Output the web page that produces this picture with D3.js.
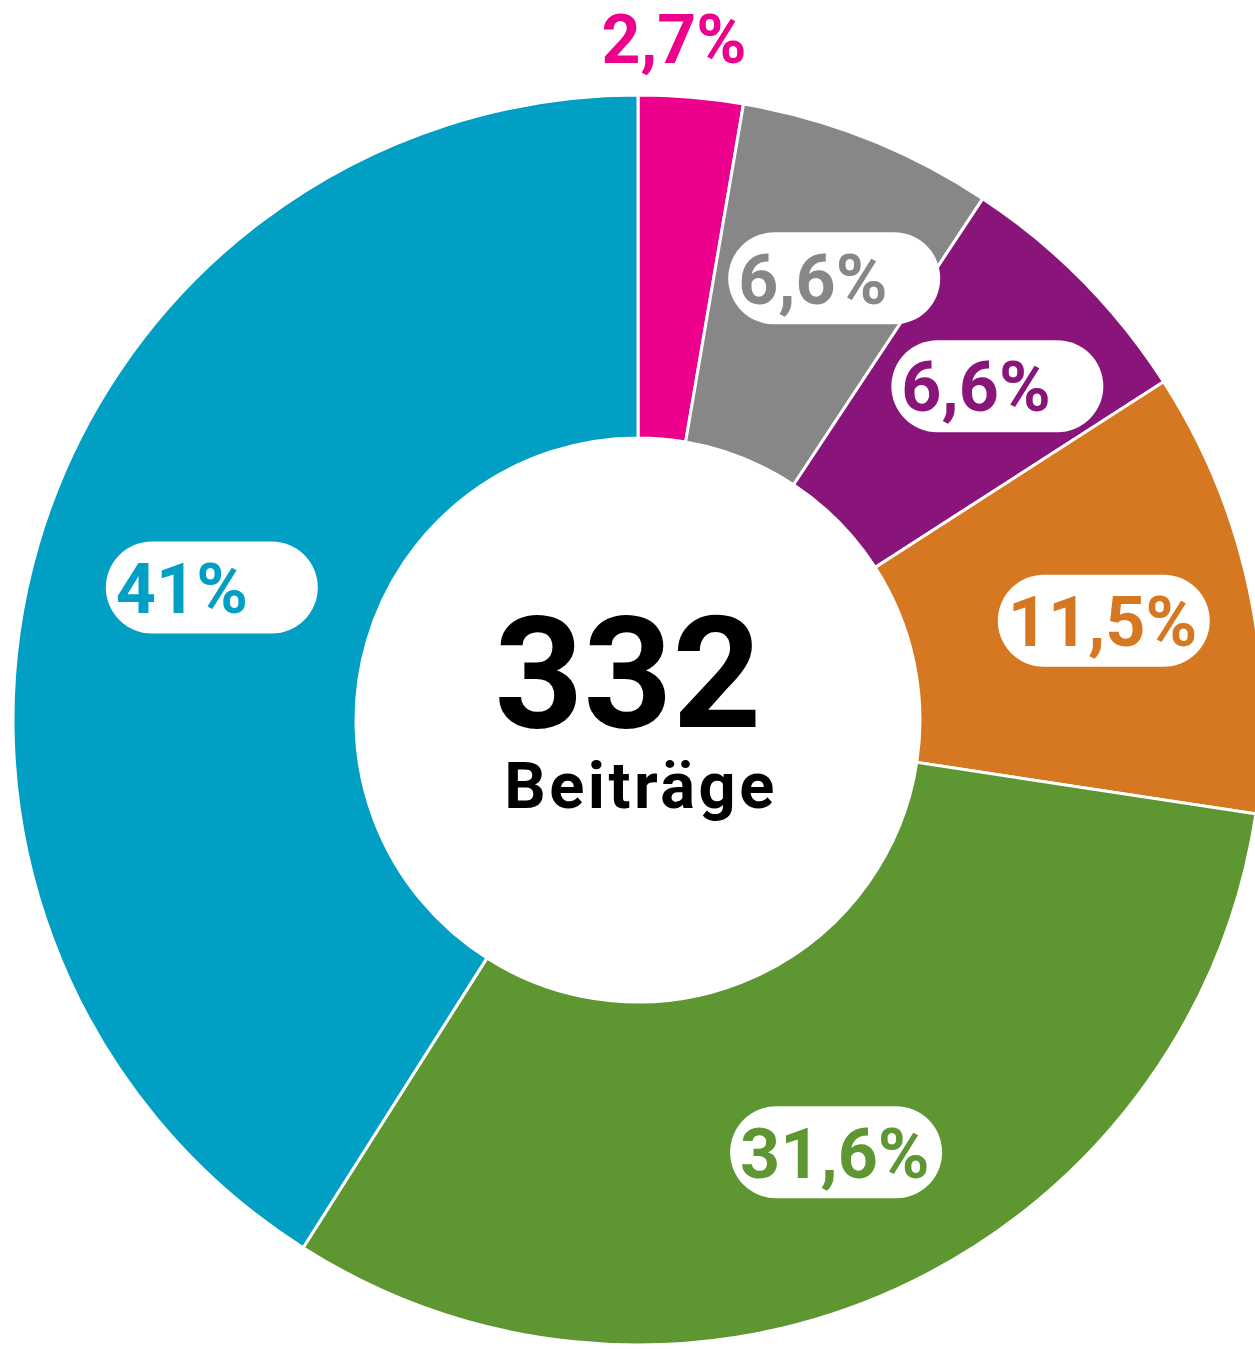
<!DOCTYPE html>
<html>
<head>
<meta charset="utf-8">
<script src="https://cdn.jsdelivr.net/npm/d3@7"></script>
<style>
  body { margin: 0; background: #fff; }
  svg { display: block; font-family: Roboto, "Noto Sans", sans-serif; }
</style>
</head>
<body>
<div id="vis"></div>
<script>
// Data, clockwise from 12 o'clock
const categories = ['pink', 'grau', 'lila', 'orange', 'gruen', 'blau'];
const shares = [2.7, 6.6, 6.6, 11.5, 31.6, 41];
const labels = ['2,7%', '6,6%', '6,6%', '11,5%', '31,6%', '41%'];
const colors = ['#ec008c', '#878787', '#89147a', '#d67821', '#5e9732', '#009fc3'];
const total = 332;
const totalLabel = 'Beiträge';

const width = 1255, height = 1349;
const cx = 638, cy = 720;
const outerR = 625, innerR = 282;

const data = categories.map((c, i) => ({category: c, value: shares[i], label: labels[i], color: colors[i]}));

const svg = d3.select('#vis')
    .append('svg')
    .attr('width', width)
    .attr('height', height);

const g = svg.append('g')
    .attr('transform', `translate(${cx},${cy})`);

const pie = d3.pie()
    .value(d => d.value)
    .sort(null);

const arc = d3.arc()
    .innerRadius(innerR)
    .outerRadius(outerR);

// arcs used only to find where the labels go
const labelArc = d3.arc().innerRadius(475).outerRadius(475);
const outsideArc = d3.arc().innerRadius(686).outerRadius(686);

const arcs = pie(data);

g.selectAll('path')
    .data(arcs)
    .enter()
    .append('path')
    .attr('d', arc)
    .attr('fill', d => d.data.color)
    .attr('stroke', '#fff')
    .attr('stroke-width', 3);

// labels: small slices sit outside, the rest in a white pill
const lab = g.selectAll('g.label')
    .data(arcs)
    .enter()
    .append('g')
    .attr('class', 'label');

lab.each(function(d) {
    const el = d3.select(this);
    const small = d.data.value < 3;
    const [x, y] = small ? outsideArc.centroid(d) : labelArc.centroid(d);
    const t = el.append('text')
        .attr('x', small ? x - 22 : x)
        .attr('y', small ? y + 2 : y)
        .attr('dy', '0.36em')
        .attr('text-anchor', 'middle')
        .style('font-size', small ? '68px' : '70px')
        .style('font-weight', 700)
        .attr('fill', d.data.color)
        .text(d.data.label);
    if (!small) {
        const bb = t.node().getBBox();
        el.insert('rect', 'text')
            .attr('x', bb.x - 10)
            .attr('y', y - 46)
            .attr('width', 212)
            .attr('height', 92)
            .attr('rx', 46)
            .attr('fill', '#fff');
    }
});

// centre total
g.append('text')
    .attr('x', -10)
    .attr('y', 7)
    .attr('text-anchor', 'middle')
    .style('font-size', '155px')
    .style('font-weight', 700)
    .attr('fill', '#000')
    .text(total);

g.append('text')
    .attr('x', 3)
    .attr('y', 88)
    .attr('text-anchor', 'middle')
    .style('font-size', '65px')
    .style('font-weight', 700)
    .style('letter-spacing', '3.5px')
    .attr('fill', '#000')
    .text(totalLabel);
</script>
</body>
</html>
